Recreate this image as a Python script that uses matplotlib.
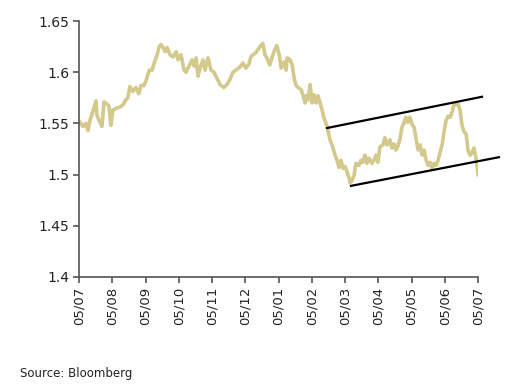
import matplotlib
matplotlib.use("Agg")
import matplotlib.pyplot as plt

# month index (0 = 05/07 first year) and price values
months = [0.03, 0.12, 0.21, 0.27, 0.33, 0.42, 0.51, 0.54, 0.63, 0.69, 0.75, 0.84, 0.90, 0.96,
          1.02, 1.14, 1.23, 1.32, 1.41, 1.47, 1.53, 1.62, 1.71, 1.80, 1.86, 1.95,
          2.02, 2.11, 2.20, 2.26, 2.35, 2.41, 2.47, 2.53, 2.59, 2.65, 2.74, 2.83, 2.92, 2.98,
          3.07, 3.16, 3.22, 3.31, 3.40, 3.46, 3.52, 3.58, 3.64, 3.73, 3.79, 3.88, 3.97,
          4.06, 4.15, 4.24, 4.36, 4.45, 4.54, 4.63, 4.72, 4.84, 4.93,
          5.02, 5.11, 5.17, 5.23, 5.32, 5.38, 5.47, 5.53, 5.59, 5.65, 5.74, 5.80, 5.89, 5.95,
          6.02, 6.08, 6.17, 6.23, 6.26, 6.35, 6.41, 6.47, 6.53, 6.59, 6.68, 6.74, 6.80, 6.83, 6.89, 6.95,
          7.01, 7.07, 7.13, 7.19, 7.25, 7.31, 7.37, 7.46, 7.55, 7.64, 7.70, 7.76, 7.82, 7.88, 7.94,
          8.00, 8.06, 8.12, 8.15, 8.21, 8.27, 8.33, 8.42, 8.48, 8.54, 8.60, 8.66, 8.72, 8.81, 8.87, 8.93, 8.99,
          9.05, 9.14, 9.20, 9.26, 9.35, 9.41, 9.47, 9.53, 9.59, 9.65, 9.71, 9.77, 9.83, 9.89, 9.95,
          10.02, 10.08, 10.14, 10.20, 10.26, 10.32, 10.38, 10.44, 10.50, 10.56, 10.62, 10.68, 10.74, 10.80, 10.86, 10.92, 10.98,
          11.04, 11.10, 11.16, 11.22, 11.28, 11.34, 11.40, 11.46, 11.52, 11.58, 11.64, 11.70, 11.76, 11.82, 11.88, 11.94, 11.97,
          12.00]
values = [1.551, 1.547, 1.550, 1.543, 1.553, 1.562, 1.572, 1.558, 1.551, 1.547, 1.571, 1.569, 1.567, 1.548,
          1.563, 1.565, 1.566, 1.568, 1.573, 1.575, 1.586, 1.581, 1.585, 1.579, 1.587, 1.587,
          1.592, 1.602, 1.602, 1.609, 1.617, 1.625, 1.627, 1.624, 1.620, 1.624, 1.617, 1.615, 1.620, 1.612,
          1.617, 1.602, 1.600, 1.606, 1.612, 1.606, 1.614, 1.596, 1.604, 1.612, 1.602, 1.614, 1.602,
          1.600, 1.594, 1.588, 1.585, 1.588, 1.593, 1.600, 1.602, 1.605, 1.609,
          1.604, 1.608, 1.615, 1.617, 1.619, 1.622, 1.626, 1.628, 1.617, 1.614, 1.607, 1.614, 1.622, 1.626,
          1.617, 1.604, 1.610, 1.602, 1.614, 1.612, 1.607, 1.594, 1.587, 1.585, 1.583, 1.577, 1.570, 1.577, 1.573, 1.588,
          1.570, 1.578, 1.570, 1.577, 1.570, 1.563, 1.555, 1.547, 1.534, 1.526, 1.519, 1.514, 1.507, 1.514, 1.506,
          1.508, 1.503, 1.497, 1.492, 1.494, 1.499, 1.511, 1.509, 1.514, 1.512, 1.519, 1.511, 1.516, 1.511, 1.514, 1.519, 1.512,
          1.527, 1.529, 1.536, 1.529, 1.534, 1.526, 1.530, 1.524, 1.528, 1.534, 1.546, 1.550, 1.556, 1.551, 1.556,
          1.549, 1.546, 1.534, 1.524, 1.529, 1.519, 1.524, 1.514, 1.509, 1.512, 1.506, 1.511, 1.509, 1.514, 1.522, 1.529, 1.542,
          1.553, 1.557, 1.556, 1.561, 1.569, 1.568, 1.569, 1.563, 1.548, 1.542, 1.540, 1.524, 1.519, 1.521, 1.526, 1.516, 1.509,
          1.500]

# trend channel lines (month, value)
upper_x = [7.46, 12.12]
upper_y = [1.5455, 1.576]
lower_x = [8.18, 12.63]
lower_y = [1.489, 1.517]

tick_labels = ["05/07", "05/08", "05/09", "05/10", "05/11", "05/12", "05/01",
               "05/02", "05/03", "05/04", "05/05", "05/06", "05/07"]
yticks = [1.4, 1.45, 1.5, 1.55, 1.6, 1.65]
ytick_labels = ["1.4", "1.45", "1.5", "1.55", "1.6", "1.65"]

fig = plt.figure(figsize=(5.08, 3.89), dpi=100)
ax = fig.add_axes([79/508, 1 - 277/389, (478 - 79)/508, (277 - 21)/389])
ax.set_facecolor("white")

ax.plot(months, values, color="#d3c98b", lw=2.6, solid_joinstyle="round", zorder=2)
ax.plot(upper_x, upper_y, color="black", lw=1.6, zorder=3, clip_on=False)
ax.plot(lower_x, lower_y, color="black", lw=1.6, zorder=3, clip_on=False)

ax.set_xlim(0, 12)
ax.set_ylim(1.4, 1.65)
ax.set_xticks(range(13))
ax.set_xticklabels(tick_labels, rotation=90, fontsize=9.5, color="#222222")
ax.set_yticks(yticks)
ax.set_yticklabels(ytick_labels, fontsize=10, color="#222222")

for s in ["top", "right"]:
    ax.spines[s].set_visible(False)
for s in ["left", "bottom"]:
    ax.spines[s].set_color("#555555")
    ax.spines[s].set_linewidth(1.2)
ax.tick_params(axis="both", direction="out", length=4, width=1.2, color="#555555", pad=3)

fig.text(20/508, 1 - 373/389, "Source: Bloomberg", fontsize=8.5, color="#222222", va="center", ha="left")

fig.savefig("out.png", dpi=100, facecolor="white")
